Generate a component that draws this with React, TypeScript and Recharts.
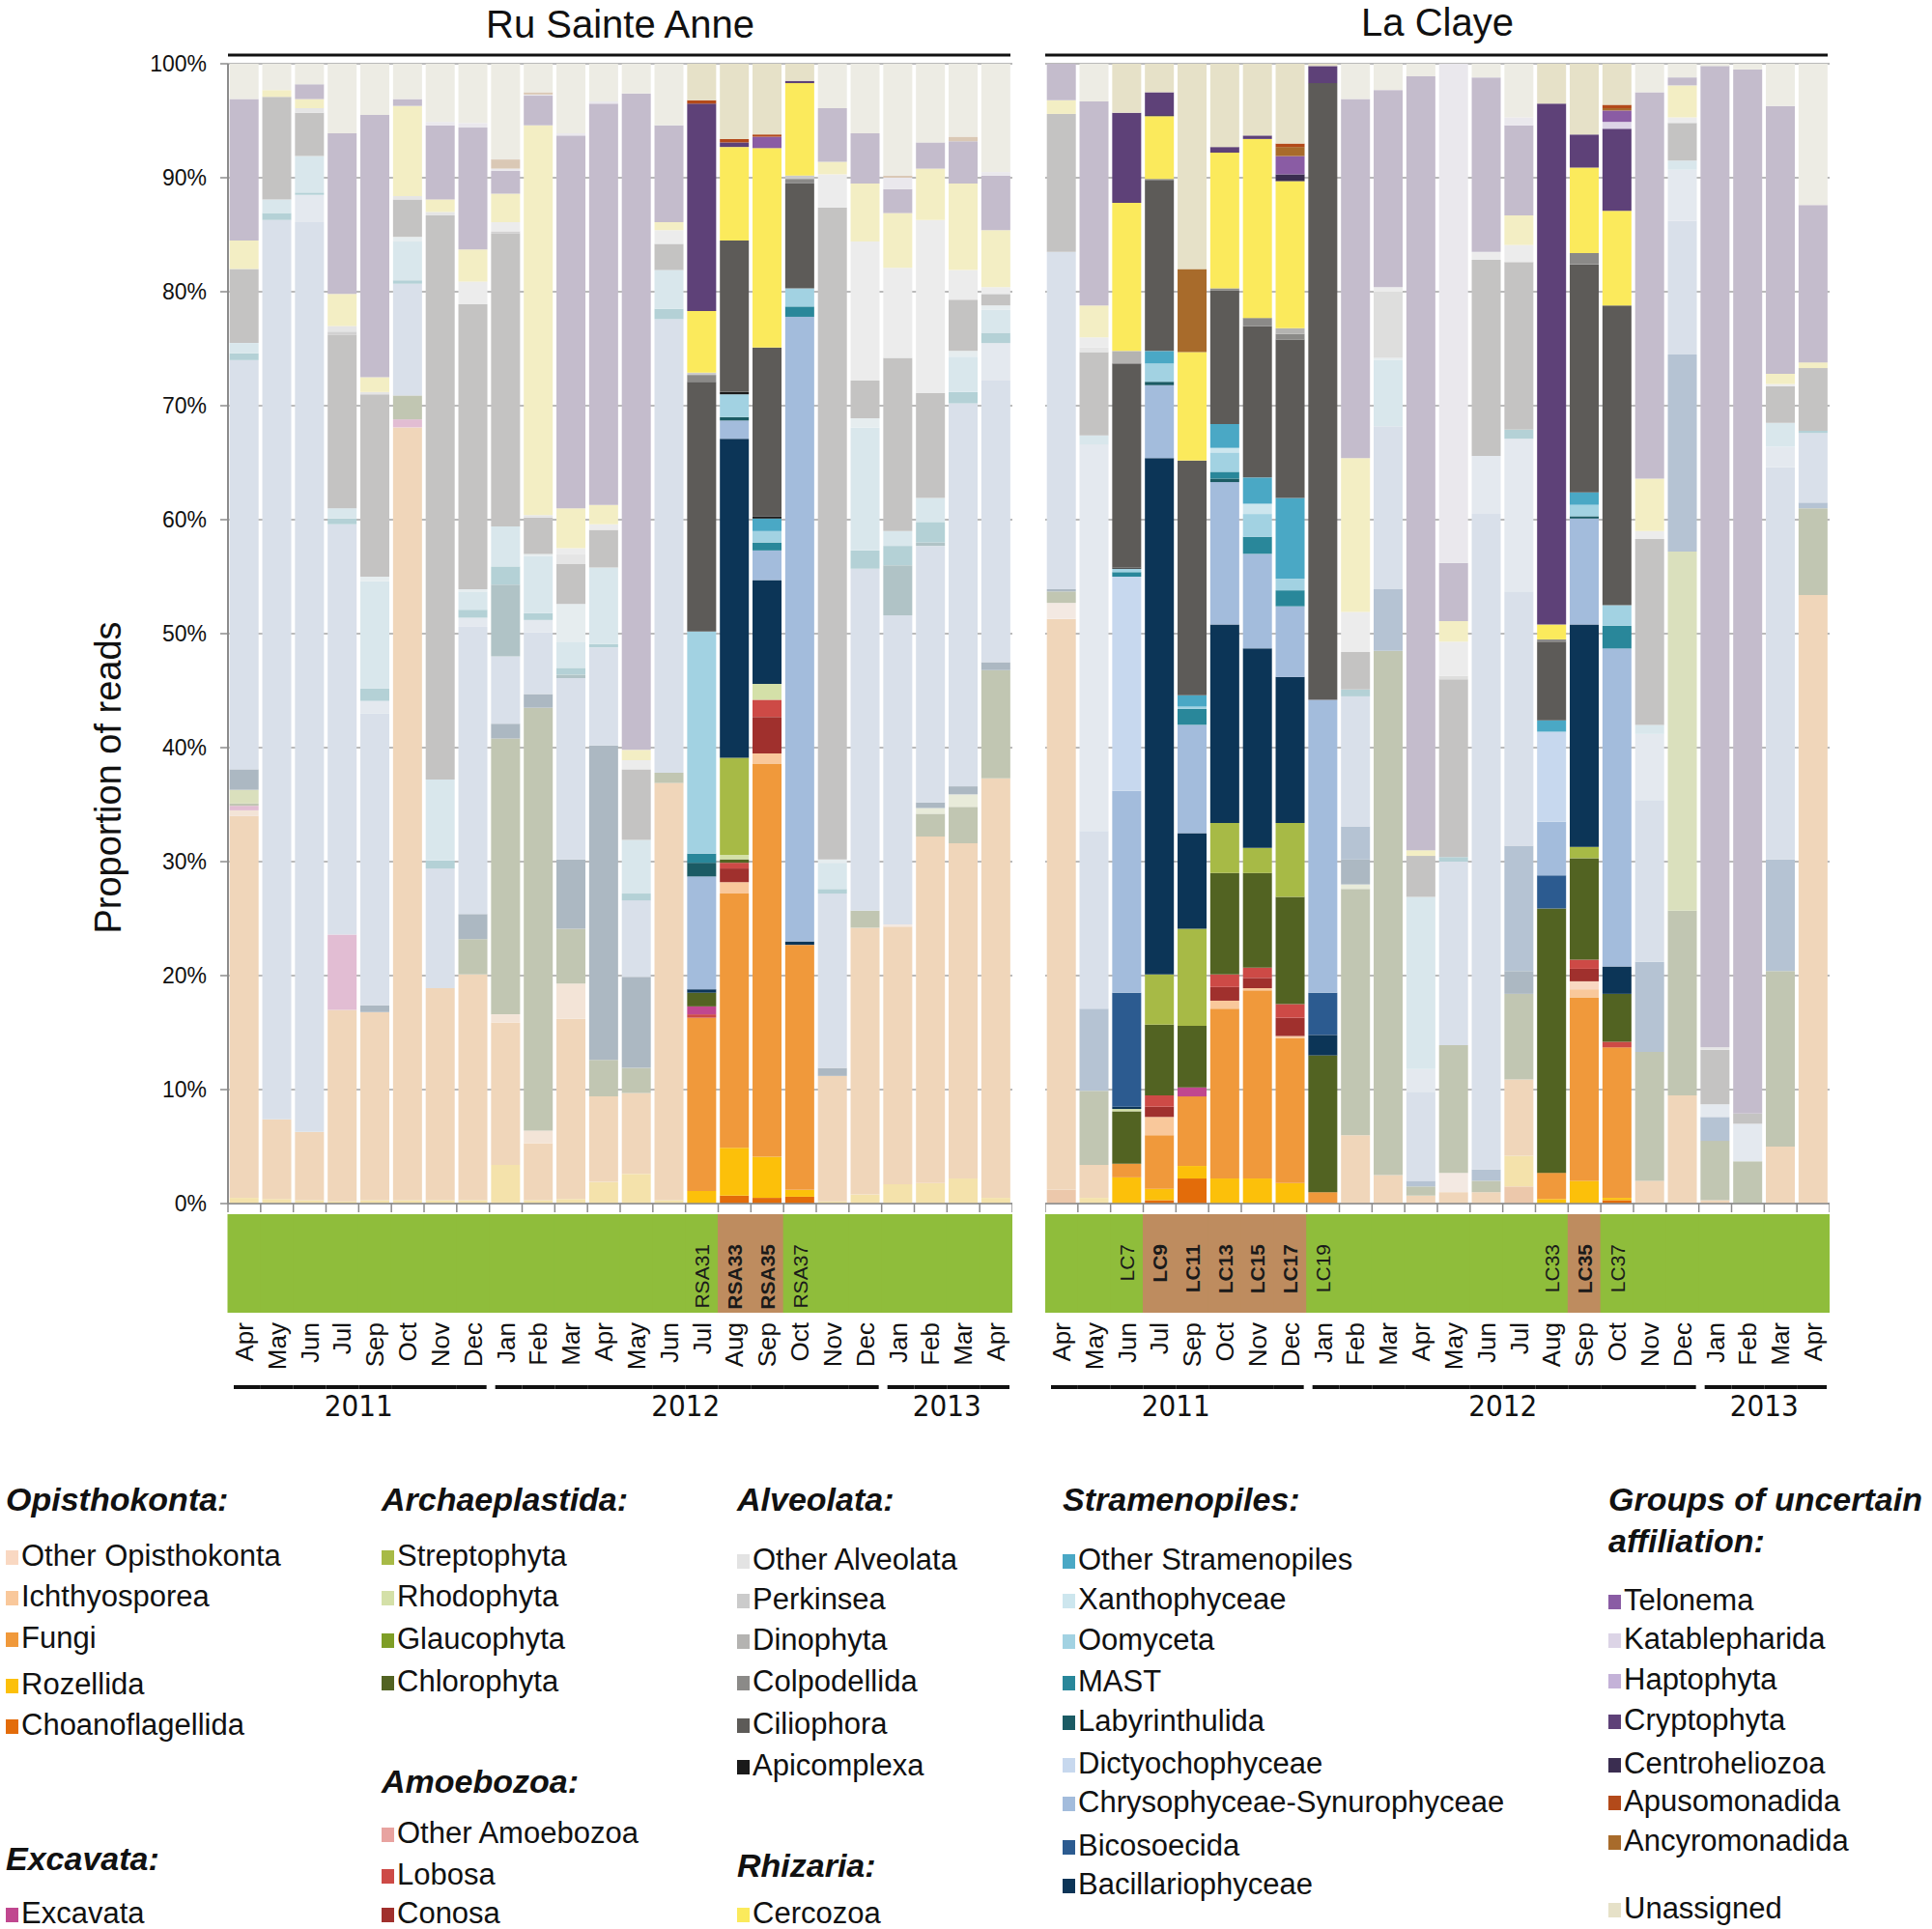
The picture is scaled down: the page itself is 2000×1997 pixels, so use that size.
import React from 'react';
import { BarChart, Bar, XAxis, YAxis, CartesianGrid, Cell } from 'recharts';

// ---------- categories / labels ----------
const months = ['Apr','May','Jun','Jul','Sep','Oct','Nov','Dec','Jan','Feb','Mar','Apr','May','Jun','Jul','Aug','Sep','Oct','Nov','Dec','Jan','Feb','Mar','Apr'];
const yearGroups = [
  { label: '2011', start: 0, end: 7 },
  { label: '2012', start: 8, end: 19 },
  { label: '2013', start: 20, end: 23 },
];
const rsaHighlight = [0,0,0,0,0,0,0,0, 0,0,0,0,0,0,1,1,1,1,0,0, 0,0,0,0];
const lcHighlight  = [0,0,1,1,1,1,1,1, 1,0,0,0,0,0,0,1,1,1,0,0, 0,0,0,0];
const rsaBrown = [0,0,0,0,0,0,0,0, 0,0,0,0,0,0,0,1,1,0,0,0, 0,0,0,0];
const lcBrown  = [0,0,0,1,1,1,1,1, 0,0,0,0,0,0,0,0,1,0,0,0, 0,0,0,0];
const rsaSampleLabels = ['','','','','','','','', '','','','','','','RSA31','RSA33','RSA35','RSA37','','', '','','',''];
const lcSampleLabels  = ['','','LC7','LC9','LC11','LC13','LC15','LC17', 'LC19','','','','','','','LC33','LC35','LC37','','', '','','',''];

// ---------- Ru Sainte Anne values (% of reads) ----------
const choanoRSA     = [0,0,0,0,0,0,0,0, 0,0,0,0,0,0,0,0.7,0.5,0.6,0,0, 0,0,0,0];
const rozellidaRSA  = [0.5,0.4,0.3,0.2,0.3,0.3,0.3,0.3, 3.4,0.3,0.4,1.9,2.6,0.3,1.1,4.2,3.6,0.6,0.2,0.8, 1.7,1.8,2.2,0.5];
const fungiRSA      = [33.5,7.0,6.0,16.8,16.5,67.8,18.6,19.8, 12.5,5.0,15.8,7.5,7.1,36.6,15.2,22.3,34.5,21.5,11.0,23.4, 22.6,30.4,29.4,36.8];
const ichthyoRSA    = [0.5,0,0,0,0,0,0,0, 0.7,1.1,3.1,0,0,0,0,1.0,0.9,0,0,0, 0,0,0,0];
const otherOpisRSA  = [0,0,0,0,0,0,0,0, 0,0,0,0,0,0,0,0,0,0,0,0, 0.2,0,0,0];
const conosaRSA     = [0,0,0,0,0,0,0,0, 0,0,0,0,0,0,0,1.2,3.2,0,0,0, 0,0,0,0];
const lobosaRSA     = [0,0,0,0,0,0,0,0, 0,0,0,0,0,0,0.3,0.5,1.5,0,0,0, 0,0,0,0];
const excavataRSA   = [0.4,0,0,6.6,0,0.7,0,0, 0,0,0,0,0,0,0.7,0,0,0,0,0, 0,0,0,0];
const chloroRSA     = [0.2,0,0,0,0,2.1,0,3.1, 24.2,37.1,4.8,3.2,2.2,0.9,1.2,0.3,0,0,0,1.5, 0,2.0,3.2,9.5];
const rhodoRSA      = [0,0,0,0,0,0,0,0, 0,0,0,0,0,0,0,0.4,1.4,0,0,0, 0,0.5,1.1,0];
const streptoRSA    = [1.2,0,0,0,0,0,0,0, 0,0,0,0,0,0,0,8.5,0,0,0,0, 0,0,0,0];
const bacillRSA     = [1.8,0,0,0,0.6,0,0,2.2, 1.3,1.2,6.1,27.6,8.0,0,0.3,28.0,9.1,0.3,0.7,0, 0,0.5,0.7,0.7];
const bicosRSA      = [0,0,0,0,0,0,0,0, 0,0,0,0,0,0,0,0,0,0,0,0, 0,0,0,0];
const chrysoRSA     = [35.9,78.9,79.8,36.0,25.6,9.8,10.5,25.2, 5.9,5.4,15.9,8.6,6.7,39.8,9.9,1.6,2.6,54.8,15.3,30.0, 27.1,22.5,33.6,24.7];
const dictyoRSA     = [0,0,2.4,0,1.1,0,0,0.8, 0,1.1,0,0,0,0,0,0,0,0,0,0, 0,0,0,3.3];
const labyrRSA      = [0,0,0,0,0,0,0,0, 6.3,0,0.3,0,0,0,1.2,0.3,0,0,0,0, 4.4,0.3,0,0];
const mastRSA       = [0.6,0.6,0.2,0.5,1.1,0.3,0.7,0.7, 1.6,0.6,0.6,0.3,0.6,0.9,0.8,0,0.7,0.9,0.4,1.6, 1.7,1.8,1.0,0.9];
const oomyRSA       = [0.9,1.2,3.2,0.9,9.4,3.4,7.1,1.6, 3.5,5.0,2.3,6.7,4.7,3.4,19.5,2.0,1.0,1.6,2.3,10.8, 1.3,2.1,3.1,2.0];
const xanthoRSA     = [0,0,0,0,0.4,0.4,0,0.2, 0,0.2,3.3,0,0,0,0,0,0,0,0.3,0.8, 0,0,0.5,0.4];
const otherStramRSA = [0,0,0,0,0,0,0,0, 0,0,0,0,0,0,0,0,1.1,0,0,0, 0,0,0,0];
const apicomRSA     = [0,0,0,0,0,0,0,0, 0,0,0,0,0,0,0,0.2,0.2,0,0,0, 0,0,0,0];
const cilioRSA      = [6.5,9.0,3.8,15.2,16.0,3.3,49.5,25.0, 25.7,3.2,3.5,3.3,6.2,2.3,21.9,13.3,14.8,9.2,57.2,3.3, 15.2,9.2,4.5,1.0];
const colpoRSA      = [0,0,0,0.3,0,0,0,0, 0.2,0,0,0,0,0,0.6,0,0,0.4,0,0, 0,0,0,0];
const dinoRSA       = [0,0,0,0,0,0,0,0, 0,0,0,0,0,0,0,0,0,0,0,0, 0,0,0,0];
const perkinseaRSA  = [0,0,0.4,0.5,0.2,0.3,0.3,0, 0,0.2,0.9,0,0,0,0.2,0,0,0.3,0,0, 0,0,0,0];
const otherAlvRSA   = [0,0,0,0,0,0,0,2.0, 0.8,0,0.5,0.5,0.8,1.2,0,0,0,0,2.9,12.2, 7.9,15.2,2.6,0.6];
const cercozoaRSA   = [2.5,0.6,0.8,2.8,1.3,7.9,1.1,2.8, 2.5,34.2,3.5,1.7,0.9,0.7,5.4,8.2,17.5,8.1,1.1,5.1, 4.8,4.5,7.6,5.0];
const centroRSA     = [0,0,0,0,0,0,0,0, 0,0,0,0,0,0,0,0,0,0,0,0, 0,0,0,0];
const cryptoRSA     = [12.4,0,1.3,14.1,23.0,0.6,6.5,10.7, 2.0,2.6,32.7,35.2,57.6,8.5,18.2,0.4,0,0.2,4.7,4.4, 2.1,2.3,3.7,4.8];
const katableRSA    = [0,0,0,0,0,0,0.3,0.4, 0.2,0.1,0.2,0.2,0,0,0,0,0,0,0,0, 1.0,0,0,0.3];
const telonemaRSA   = [0,0,0,0,0,0,0,0, 0,0,0,0,0,0,0,0,1.0,0,0,0, 0,0,0,0];
const ancyroRSA     = [0,0,0,0,0,0,0,0, 0.8,0.2,0,0,0,0,0,0,0,0,0,0, 0.2,0,0.4,0];
const apusoRSA      = [0,0,0,0,0,0,0,0, 0,0,0,0,0,0,0.3,0.3,0.2,0,0,0, 0,0,0,0];
const unassignedRSA = [3.1,2.3,1.8,6.1,4.5,3.1,5.1,5.2, 8.4,2.5,6.1,3.3,2.6,5.4,3.2,6.6,6.2,1.5,3.9,6.1, 9.8,6.9,6.4,9.5];

// ---------- La Claye values (% of reads) ----------
const choanoLC     = [1.2,0,0,0.3,2.2,0,0,0, 0,0,0,0,0,0,1.5,0,0,0.3,0,0, 0,0,0,0];
const rozellidaLC  = [0,0.5,2.3,1.0,1.1,2.2,2.2,1.8, 0,0,0,0,0,0,2.7,0.4,2.0,0.2,0,0, 0,0,0,0];
const fungiLC      = [50.1,2.9,1.2,4.7,6.1,14.9,16.5,12.7, 1.0,6.0,2.5,0.7,1.0,1.0,6.7,2.3,16.1,13.2,2.0,9.5, 0.3,0,5.0,53.4];
const ichthyoLC    = [0,0,0,1.6,0,0.7,0.2,0.2, 0,0,0,0,0,0,0,0,0.7,0,0,0, 0,0,0,0];
const otherOpisLC  = [1.4,0,0,0,0,0,0,0, 0,0,0,0,1.7,0,0,0,0.7,0,0,0, 0,0,0,0];
const conosaLC     = [0,0,0,0.9,0,1.2,0.9,1.6, 0,0,0,0,0,0,0,0,1.1,0,0,0, 0,0,0,0];
const lobosaLC     = [0,0,0,1.0,0,1.1,0.9,1.2, 0,0,0,0,0,0,0,0,0.8,0.5,0,0, 0,0,0,0];
const excavataLC   = [0,0,0,0,0.8,0,0,0, 0,0,0,0,0,0,0,0,0,0,0,0, 0,0,0,0];
const chloroLC     = [1.0,6.5,4.6,6.2,5.4,8.9,8.3,9.4, 12.0,21.6,46.0,0.8,11.2,1.0,7.5,23.2,8.9,4.2,11.3,16.2, 5.2,3.7,15.4,7.6];
const rhodoLC      = [0,0,0.2,0,0,0,0,0, 0,0.4,0,0,0,0,0,0,0,0,0,0, 0,0,0,0];
const streptoLC    = [0,0,0,4.4,8.5,4.4,2.2,6.5, 0,0,0,0,0,0,0,0,1.0,0,0,31.5, 0,0,0,0];
const bacillLC     = [0.2,0,0.2,45.3,8.4,17.4,17.5,12.8, 1.8,2.2,0,0,0,0,2.0,0,19.5,2.4,0,0, 0,0,0,0];
const bicosLC      = [0,7.2,10.0,0,0,0,0,0, 3.7,2.9,5.4,0.5,0,1.0,11.0,2.9,0,0,7.9,17.3, 2.1,0,9.8,0.5];
const chrysoLC     = [29.6,15.6,17.7,6.4,9.5,12.5,8.3,6.2, 25.7,11.4,14.3,7.8,16.1,57.5,22.3,4.7,9.3,27.9,14.2,11.7, 0,0,34.4,6.1];
const dictyoLC     = [0,33.9,18.8,0,0,0,0,0, 0,0,0,2.0,0,5.1,13.4,7.9,0,0,5.8,4.5, 1.1,3.3,1.8,0];
const labyrLC      = [0,0,0,0.3,0,0.3,0,0, 0,0,0,0,0,0,0,0,0.2,0,0,0, 0,0,0,0];
const mastLC       = [0,0,0.4,0,1.4,0.6,1.5,1.4, 0,0.6,0,0,0.4,0,0.8,0,0,2.0,0,0, 0,0,0,0.2];
const oomyLC       = [0,0.8,0.3,1.6,0.2,1.7,2.0,1.0, 0,0,5.8,15.1,0,0,0,0,1.0,1.8,0.8,0.8, 0,0,2.1,0];
const xanthoLC     = [0,0,0,0,0,0.4,0.9,0, 0,0,0.2,0,0,0,0,0,0,0,0,0, 0,0,0,0];
const otherStramLC = [0,0,0,1.1,1.0,2.1,2.3,7.1, 0,0,0,0,0,0,0,1.0,1.1,0,0,0, 0,0,0,0];
const apicomLC     = [0,0,0.1,0,0,0,0,0, 0,0,0,0,0,0,0,0,0,0,0,0, 0,0,0,0];
const cilioLC      = [12.1,7.3,17.9,15.0,20.6,11.7,13.3,13.9, 54.1,3.3,0,3.6,15.6,17.2,14.7,6.9,20.0,26.3,16.3,3.3, 4.8,0.9,3.2,5.5];
const colpoLC      = [0,0,0,0.1,0,0.2,0.7,0.5, 0,0,0,0,0,0,0,0.2,1.0,0,0,0, 0,0,0,0];
const dinoLC       = [0,0,1.1,0,0,0,0,0.5, 0,0,5.8,0,0.3,0,0,0,0,0,0,0, 0,0,0,0];
const perkinseaLC  = [0,0.4,0,0,0,0,0,0, 0,0,0,0,0,0,0,0,0,0,0,0, 0.2,0,0,0];
const otherAlvLC   = [0,0.9,0,0,0,0,0,0, 0,3.5,0.4,0,3.0,0.7,1.5,0,0,0,0.7,0.5, 0,0,0.2,0];
const cercozoaLC   = [1.2,2.8,13.0,5.5,9.5,11.9,15.7,12.9, 0,13.5,0,0.5,1.8,0,2.6,1.3,7.5,8.3,4.6,2.8, 0,0,0.9,0.5];
const centroLC     = [0,0,0,0.1,0,0,0,0.6, 0,0,0,0,0,0,0,0,0,0,0,0, 0,0,0,0];
const cryptoLC     = [3.2,17.9,7.9,2.0,0,0.5,0.3,0, 1.5,31.5,17.3,67.9,5.1,15.3,7.9,45.7,2.9,7.2,33.9,0.7, 86.1,91.6,23.5,13.8];
const katableLC    = [0,0,0,0,0,0,0,0, 0,0,0,0,43.8,0,0.7,0,0,0.6,0,0, 0,0,0,0];
const telonemaLC   = [0,0,0,0,0,0,0,1.6, 0,0,0,0,0,0,0,0,0,1.0,0,0, 0,0,0,0];
const ancyroLC     = [0,0,0,0,7.3,0,0,0.8, 0,0,0,0,0,0,0,0,0,0.2,0,0, 0,0,0,0];
const apusoLC      = [0,0,0,0,0,0,0,0.3, 0,0,0,0,0,0,0,0,0,0.3,0,0, 0,0,0,0];
const unassignedLC = [0,3.3,4.3,2.5,18.0,7.3,6.3,7.0, 0.2,3.1,2.3,1.1,0,1.2,4.7,3.5,6.2,3.6,2.5,1.2, 0.2,0.5,3.7,12.4];

// ---------- series table (stack order bottom -> top) ----------
const SERIES = [
  { key: 'choano', color: '#e36c0a', rsa: choanoRSA, lc: choanoLC },
  { key: 'rozellida', color: '#fcc00a', rsa: rozellidaRSA, lc: rozellidaLC },
  { key: 'fungi', color: '#f0993b', rsa: fungiRSA, lc: fungiLC },
  { key: 'ichthyo', color: '#f9c89b', rsa: ichthyoRSA, lc: ichthyoLC },
  { key: 'otherOpis', color: '#f9d8c2', rsa: otherOpisRSA, lc: otherOpisLC },
  { key: 'conosa', color: '#a0302d', rsa: conosaRSA, lc: conosaLC },
  { key: 'lobosa', color: '#cd4a46', rsa: lobosaRSA, lc: lobosaLC },
  { key: 'excavata', color: '#c0478f', rsa: excavataRSA, lc: excavataLC },
  { key: 'chloro', color: '#526322', rsa: chloroRSA, lc: chloroLC },
  { key: 'rhodo', color: '#d4e0a8', rsa: rhodoRSA, lc: rhodoLC },
  { key: 'strepto', color: '#a7ba46', rsa: streptoRSA, lc: streptoLC },
  { key: 'bacill', color: '#0c3557', rsa: bacillRSA, lc: bacillLC },
  { key: 'bicos', color: '#2c5b90', rsa: bicosRSA, lc: bicosLC },
  { key: 'chryso', color: '#a3bcdc', rsa: chrysoRSA, lc: chrysoLC },
  { key: 'dictyo', color: '#c7d8ee', rsa: dictyoRSA, lc: dictyoLC },
  { key: 'labyr', color: '#1b5b64', rsa: labyrRSA, lc: labyrLC },
  { key: 'mast', color: '#29879a', rsa: mastRSA, lc: mastLC },
  { key: 'oomy', color: '#a2d2e2', rsa: oomyRSA, lc: oomyLC },
  { key: 'xantho', color: '#cde6ee', rsa: xanthoRSA, lc: xanthoLC },
  { key: 'otherStram', color: '#4aa8c5', rsa: otherStramRSA, lc: otherStramLC },
  { key: 'apicom', color: '#1a1a1a', rsa: apicomRSA, lc: apicomLC },
  { key: 'cilio', color: '#5d5b58', rsa: cilioRSA, lc: cilioLC },
  { key: 'colpo', color: '#8b8a88', rsa: colpoRSA, lc: colpoLC },
  { key: 'dino', color: '#b4b3b1', rsa: dinoRSA, lc: dinoLC },
  { key: 'perkinsea', color: '#cbcbcb', rsa: perkinseaRSA, lc: perkinseaLC },
  { key: 'otherAlv', color: '#e3e3e3', rsa: otherAlvRSA, lc: otherAlvLC },
  { key: 'cercozoa', color: '#fbea5c', rsa: cercozoaRSA, lc: cercozoaLC },
  { key: 'centro', color: '#3a2d50', rsa: centroRSA, lc: centroLC },
  { key: 'crypto', color: '#5e4178', rsa: cryptoRSA, lc: cryptoLC },
  { key: 'katable', color: '#dcd4e6', rsa: katableRSA, lc: katableLC },
  { key: 'telonema', color: '#8a5ca4', rsa: telonemaRSA, lc: telonemaLC },
  { key: 'ancyro', color: '#a86b2b', rsa: ancyroRSA, lc: ancyroLC },
  { key: 'apuso', color: '#b34a1a', rsa: apusoRSA, lc: apusoLC },
  { key: 'unassigned', color: '#e6e1c8', rsa: unassignedRSA, lc: unassignedLC },
];

// ---------- legend ----------
const LEGEND = [
  { x: 6, blocks: [
    { title: ['Opisthokonta:'], ty: [1552], items: [['Other Opisthokonta','#f9d8c2',1610],['Ichthyosporea','#f9c89b',1652],['Fungi','#f0993b',1695],['Rozellida','#fcc00a',1743],['Choanoflagellida','#e36c0a',1785]] },
    { title: ['Excavata:'], ty: [1924], items: [['Excavata','#c0478f',1980]] },
  ]},
  { x: 395, blocks: [
    { title: ['Archaeplastida:'], ty: [1552], items: [['Streptophyta','#a7ba46',1610],['Rhodophyta','#d4e0a8',1652],['Glaucophyta','#7e9e26',1696],['Chlorophyta','#526322',1740]] },
    { title: ['Amoebozoa:'], ty: [1844], items: [['Other Amoebozoa','#e8a3a0',1897],['Lobosa','#cd4a46',1940],['Conosa','#a0302d',1980]] },
  ]},
  { x: 763, blocks: [
    { title: ['Alveolata:'], ty: [1552], items: [['Other Alveolata','#e3e3e3',1614],['Perkinsea','#cbcbcb',1655],['Dinophyta','#b4b3b1',1697],['Colpodellida','#8b8a88',1740],['Ciliophora','#5d5b58',1784],['Apicomplexa','#1a1a1a',1827]] },
    { title: ['Rhizaria:'], ty: [1931], items: [['Cercozoa','#fbea5c',1980]] },
  ]},
  { x: 1100, blocks: [
    { title: ['Stramenopiles:'], ty: [1552], items: [['Other Stramenopiles','#4aa8c5',1614],['Xanthophyceae','#cde6ee',1655],['Oomyceta','#a2d2e2',1697],['MAST','#29879a',1740],['Labyrinthulida','#1b5b64',1781],['Dictyochophyceae','#c7d8ee',1825],['Chrysophyceae-Synurophyceae','#a3bcdc',1865],['Bicosoecida','#2c5b90',1910],['Bacillariophyceae','#0c3557',1950]] },
  ]},
  { x: 1665, blocks: [
    { title: ['Groups of uncertain','affiliation:'], ty: [1552,1595], items: [['Telonema','#8a5ca4',1656],['Katablepharida','#dcd4e6',1696],['Haptophyta','#c4b2d8',1738],['Cryptophyta','#5e4178',1780],['Centroheliozoa','#3a2d50',1825],['Apusomonadida','#b34a1a',1864],['Ancyromonadida','#a86b2b',1905],['Unassigned','#e6e1c8',1975]] },
  ]},
];

// ---------- styling ----------
const FONT = '"Liberation Sans", Arial, Helvetica, sans-serif';
const NARROW = '"Liberation Sans Narrow", "Arial Narrow", "DejaVu Sans Condensed", sans-serif';
const GREEN = '#8fbd3b';
const BROWN = '#be8c5f';
const PLOT_W = 812;
const PLOT_TOP = 66;
const PLOT_H = 1180;
const XAXIS_H = 250;
const YAXIS_W = 80;
const BAND = PLOT_W / 24;

function fade(hex: string) {
  const n = parseInt(hex.slice(1), 16);
  const f = (c: number) => Math.round(0.3 * c + 0.7 * 240);
  return `rgb(${f((n >> 16) & 255)},${f((n >> 8) & 255)},${f(n & 255)})`;
}

function buildRows(site: 'rsa' | 'lc') {
  return months.map((m, i) => {
    const row: any = { idx: i };
    SERIES.forEach((s) => { row[s.key] = s[site][i]; });
    return row;
  });
}

function BandTick(props: any) {
  const { x, y, payload, brown, labels } = props;
  const i = Number(payload.value);
  const isBrown = brown[i] === 1;
  const label = labels[i];
  const grp = yearGroups.find((g) => i >= g.start && i <= g.end)!;
  const bx1 = x - BAND / 2 + (i === grp.start ? 6 : 0);
  const bx2 = x + BAND / 2 - (i === grp.end ? 3 : 0);
  return (
    <g>
      <line x1={x - BAND / 2} x2={x - BAND / 2} y1={y} y2={y + 9} stroke="#8c8c8c" strokeWidth={1.5} />
      {i === 23 && <line x1={x + BAND / 2} x2={x + BAND / 2} y1={y} y2={y + 9} stroke="#8c8c8c" strokeWidth={1.5} />}
      <rect x={x - BAND / 2 - 0.5} y={y + 11} width={BAND + 1} height={102} fill={isBrown ? BROWN : GREEN} />
      {label && (
        <text transform={`translate(${x},${y + 42}) rotate(-90)`} textAnchor="end" dominantBaseline="central"
          fontFamily={FONT} fontSize={21} fontWeight={isBrown ? 700 : 400} fill="#1a1a1a">{label}</text>
      )}
      <text transform={`translate(${x},${y + 123}) rotate(-90)`} textAnchor="end" dominantBaseline="central"
        fontFamily={FONT} fontSize={26} fill="#111">{months[i]}</text>
      <line x1={bx1} x2={bx2} y1={y + 190} y2={y + 190} stroke="#111" strokeWidth={4} />
      {i === grp.start && (
        <text x={x + ((grp.end - grp.start) / 2) * BAND} y={y + 209} textAnchor="middle" dominantBaseline="central"
          fontFamily={NARROW} fontSize={31} fill="#111">{grp.label}</text>
      )}
    </g>
  );
}

function Panel({ site, showY }: { site: 'rsa' | 'lc'; showY: boolean }) {
  const data = buildRows(site);
  const hl = site === 'rsa' ? rsaHighlight : lcHighlight;
  const brown = site === 'rsa' ? rsaBrown : lcBrown;
  const labels = site === 'rsa' ? rsaSampleLabels : lcSampleLabels;
  const width = PLOT_W + (showY ? YAXIS_W : 0);
  return (
    <BarChart width={width} height={PLOT_TOP + PLOT_H + XAXIS_H} data={data}
      margin={{ top: PLOT_TOP, right: 0, bottom: 0, left: 0 }}
      stackOffset="expand" barCategoryGap="5%">
      <CartesianGrid vertical={false} stroke="#a3a3a3" strokeWidth={1.5} />
      <XAxis dataKey="idx" type="category" interval={0} height={XAXIS_H} tickSize={0} tickMargin={0}
        tickLine={false} axisLine={{ stroke: '#8c8c8c', strokeWidth: 1.5 }}
        tick={(p: any) => <BandTick {...p} brown={brown} labels={labels} />} />
      <YAxis type="number" domain={[0, 1]} ticks={[0, 0.1, 0.2, 0.3, 0.4, 0.5, 0.6, 0.7, 0.8, 0.9, 1]}
        hide={!showY} width={YAXIS_W} tickSize={8} tickMargin={14}
        axisLine={{ stroke: '#8c8c8c', strokeWidth: 2 }} tickLine={{ stroke: '#8c8c8c', strokeWidth: 1.5 }}
        tick={{ fontFamily: FONT, fontSize: 23, fill: '#111' }}
        tickFormatter={(v: number) => `${Math.round(v * 100)}%`} />
      {SERIES.map((s) => (
        <Bar key={s.key} dataKey={s.key} stackId="s" isAnimationActive={false}>
          {data.map((_, i) => (
            <Cell key={i} fill={hl[i] ? s.color : fade(s.color)} />
          ))}
        </Bar>
      ))}
    </BarChart>
  );
}

export default function App() {
  return (
    <div style={{ position: 'absolute', left: 0, top: 0, width: 2000, height: 1997, background: '#fff', overflow: 'hidden' }}>
      <svg width={2000} height={1997} style={{ position: 'absolute', left: 0, top: 0 }}>
        <text x={642} y={39} textAnchor="middle" fontFamily={FONT} fontSize={40} fill="#111">Ru Sainte Anne</text>
        <text x={1488} y={37} textAnchor="middle" fontFamily={FONT} fontSize={40} fill="#111">La Claye</text>
        <line x1={236} x2={1046} y1={57} y2={57} stroke="#111" strokeWidth={3} />
        <line x1={1082} x2={1892} y1={57} y2={57} stroke="#111" strokeWidth={3} />
        <text transform="translate(112,805) rotate(-90)" textAnchor="middle" dominantBaseline="central"
          fontFamily={FONT} fontSize={38} fill="#111">Proportion of reads</text>
        {LEGEND.map((col, ci) => (
          <g key={ci}>
            {col.blocks.map((b, bi) => (
              <g key={bi}>
                {b.title.map((t, ti) => (
                  <text key={ti} x={col.x} y={b.ty[ti]} dominantBaseline="central" fontFamily={FONT}
                    fontSize={34} fontWeight={700} fontStyle="italic" fill="#111">{t}</text>
                ))}
                {b.items.map(([name, color, yy]) => (
                  <g key={name as string}>
                    <rect x={col.x} y={(yy as number) - 5} width={13} height={15} fill={color as string} />
                    <text x={col.x + 16} y={yy as number} dominantBaseline="central" fontFamily={FONT}
                      fontSize={31} fill="#111">{name}</text>
                  </g>
                ))}
              </g>
            ))}
          </g>
        ))}
      </svg>
      <div style={{ position: 'absolute', left: 236 - YAXIS_W, top: 0 }}>
        <Panel site="rsa" showY={true} />
      </div>
      <div style={{ position: 'absolute', left: 1082, top: 0 }}>
        <Panel site="lc" showY={false} />
      </div>
    </div>
  );
}
